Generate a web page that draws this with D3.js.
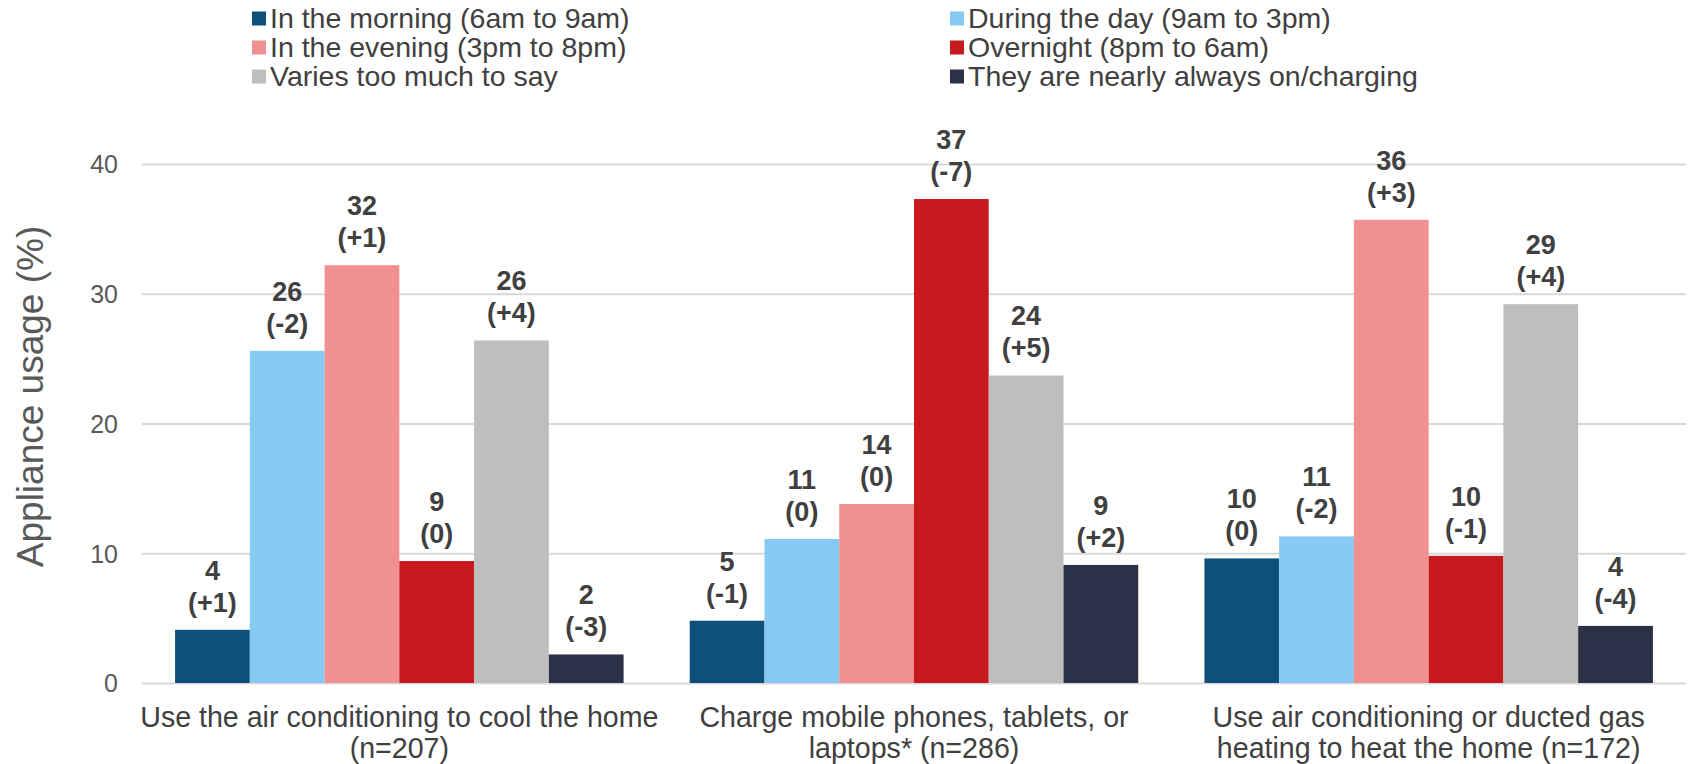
<!DOCTYPE html>
<html>
<head>
<meta charset="utf-8">
<script src="https://cdn.jsdelivr.net/npm/d3@7"></script>
<style>
  html, body { margin: 0; padding: 0; background: #fff; }
  svg { display: block; font-family: Arial, "Liberation Sans", sans-serif; }
</style>
</head>
<body>
<svg id="chart" width="1694" height="764"></svg>
<script>
// Appliance usage by time of day
const categories = [
  ["Use the air conditioning to cool the home", "(n=207)"],
  ["Charge mobile phones, tablets, or", "laptops* (n=286)"],
  ["Use air conditioning or ducted gas", "heating to heat the home (n=172)"]
];
const seriesNames = [
  "In the morning (6am to 9am)",
  "During the day (9am to 3pm)",
  "In the evening (3pm to 8pm)",
  "Overnight (8pm to 6am)",
  "Varies too much to say",
  "They are nearly always on/charging"
];
const seriesColors = ["#0E5079", "#86C9F3", "#F09090", "#C61A1F", "#BEBEBE", "#2C3148"];

// usage share (%) per series, one entry per category
const morning   = [4.1, 4.8, 9.6];
const daytime   = [25.6, 11.1, 11.3];
const evening   = [32.2, 13.8, 35.7];
const overnight = [9.4, 37.3, 9.8];
const varies    = [26.4, 23.7, 29.2];
const alwaysOn  = [2.2, 9.1, 4.4];
// change from the previous survey (percentage points)
const morningChg   = [1, -1, 0];
const daytimeChg   = [-2, 0, -2];
const eveningChg   = [1, 0, 3];
const overnightChg = [0, -7, -1];
const variesChg    = [4, 5, 4];
const alwaysOnChg  = [-3, 2, -4];
const yTicks = [0, 10, 20, 30, 40];

const values  = [morning, daytime, evening, overnight, varies, alwaysOn];
const changes = [morningChg, daytimeChg, eveningChg, overnightChg, variesChg, alwaysOnChg];

const svg = d3.select("#chart");
const plot = { left: 142, right: 1686, top: 164, bottom: 683 };
const textColor = "#404040";

const x0 = d3.scaleBand().domain(d3.range(categories.length)).range([plot.left, plot.right]).padding(0);
const x1 = d3.scaleBand().domain(d3.range(seriesNames.length)).range([0, x0.bandwidth()])
  .paddingInner(0).paddingOuter(0.4425);
const y = d3.scaleLinear().domain([0, 40]).range([plot.bottom, plot.top]);

// gridlines and tick labels
const yAxis = d3.axisLeft(y).tickValues(yTicks).tickSize(-(plot.right - plot.left))
  .tickFormat(d3.format("d"));
const gy = svg.append("g").attr("transform", `translate(${plot.left},0)`).call(yAxis);
gy.select(".domain").remove();
gy.selectAll(".tick line").attr("stroke", "#D9D9D9").attr("stroke-width", 2);
gy.selectAll(".tick text").attr("fill", "#595959").attr("font-size", 25).attr("x", -24).attr("dy", "0.35em");

// bars
const groups = svg.append("g").selectAll("g")
  .data(categories.map((c, i) => i))
  .join("g")
  .attr("transform", i => `translate(${x0(i)},0)`);

const cells = i => values.map((s, k) => ({ k, v: s[i], c: changes[k][i] }));

groups.selectAll("rect")
  .data(cells)
  .join("rect")
  .attr("x", d => x1(d.k))
  .attr("width", x1.bandwidth())
  .attr("y", d => y(d.v))
  .attr("height", d => y(0) - y(d.v))
  .attr("fill", d => seriesColors[d.k]);

// value labels: rounded value over the change in brackets
const fmtChg = c => "(" + (c > 0 ? "+" + c : String(c)) + ")";
const lbl = groups.selectAll("text.lbl")
  .data(cells)
  .join("text")
  .attr("class", "lbl")
  .attr("text-anchor", "middle")
  .attr("font-weight", "bold")
  .attr("font-size", 27)
  .attr("fill", textColor);
lbl.append("tspan")
  .attr("x", d => x1(d.k) + x1.bandwidth() / 2)
  .attr("y", d => y(d.v) - 50)
  .text(d => d3.format(".0f")(d.v));
lbl.append("tspan")
  .attr("x", d => x1(d.k) + x1.bandwidth() / 2)
  .attr("y", d => y(d.v) - 18)
  .text(d => fmtChg(d.c));

// category labels
svg.append("g").selectAll("text")
  .data(categories)
  .join("text")
  .attr("text-anchor", "middle")
  .attr("font-size", 28.6)
  .attr("fill", textColor)
  .each(function (lines, i) {
    const t = d3.select(this);
    lines.forEach((line, j) => {
      t.append("tspan")
        .attr("x", x0(i) + x0.bandwidth() / 2)
        .attr("y", 727 + j * 31)
        .text(line);
    });
  });

// y axis title
svg.append("text")
  .attr("transform", "translate(43,396.5) rotate(-90)")
  .attr("text-anchor", "middle")
  .attr("font-size", 37)
  .attr("fill", "#595959")
  .text("Appliance usage (%)");

// legend, two columns by three rows
const legendCols = [252, 950];
const legendRows = [18.5, 47.5, 76.5];
const legend = svg.append("g").selectAll("g")
  .data(seriesNames.map((n, k) => ({ n, k })))
  .join("g")
  .attr("transform", d => `translate(${legendCols[d.k % 2]},${legendRows[Math.floor(d.k / 2)]})`);
legend.append("rect")
  .attr("x", 0).attr("y", -7).attr("width", 14).attr("height", 14)
  .attr("fill", d => seriesColors[d.k]);
legend.append("text")
  .attr("x", 18).attr("dy", "0.35em")
  .attr("font-size", 28.5)
  .attr("fill", textColor)
  .text(d => d.n);
</script>
</body>
</html>
